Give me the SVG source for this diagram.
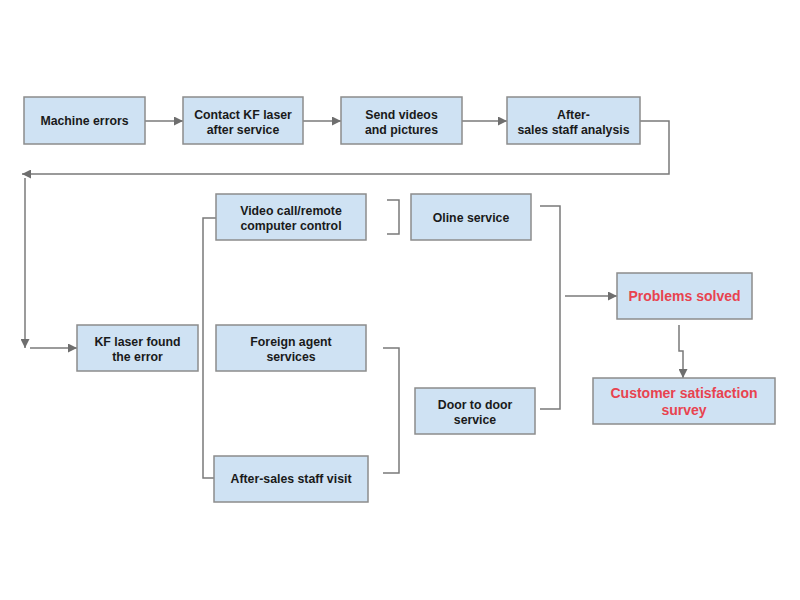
<svg xmlns="http://www.w3.org/2000/svg" width="800" height="600" viewBox="0 0 800 600">
<defs>
<style>
.box{fill:#cfe2f3;stroke:#8c8c8c;stroke-width:1.5}
.t{font-family:"Liberation Sans",Arial,sans-serif;font-size:12.3px;font-weight:bold;fill:#1a1a1a;text-anchor:middle}
.r{font-family:"Liberation Sans",Arial,sans-serif;font-size:14px;font-weight:bold;fill:#e8434f;text-anchor:middle}
.c{fill:none;stroke:#7a7a7a;stroke-width:1.5}
</style>
<marker id="ah" viewBox="0 0 10 10" refX="10" refY="5" markerWidth="12" markerHeight="9" markerUnits="userSpaceOnUse" orient="auto">
<path d="M0,0 L10,5 L0,10 Z" fill="#6e6e6e"/>
</marker>
</defs>
<rect width="800" height="600" fill="#ffffff"/>
<g id="connectors">
<path class="c" d="M145,121 H183" marker-end="url(#ah)"/>
<path class="c" d="M303,121 H341" marker-end="url(#ah)"/>
<path class="c" d="M462,121 H507" marker-end="url(#ah)"/>
<path class="c" d="M640,121 H669 V174 H22" marker-end="url(#ah)"/>
<path class="c" d="M25,178 V348" marker-end="url(#ah)"/>
<path class="c" d="M30,348 H77" marker-end="url(#ah)"/>
<path class="c" d="M216,218 H203 V478 H214"/>
<path class="c" d="M387,200 H399 V234 H387"/>
<path class="c" d="M383,348 H399 V473 H383"/>
<path class="c" d="M540,206 H560 V409 H540"/>
<path class="c" d="M565,296 H617" marker-end="url(#ah)"/>
<path class="c" d="M679,325 V351 H683 V378" marker-end="url(#ah)"/>
</g>
<g id="machine-errors"><rect class="box" x="24" y="97" width="121" height="47"/><text class="t" x="84.5" y="125">Machine errors</text></g>
<g id="contact-kf"><rect class="box" x="183" y="97" width="120" height="47"/><text class="t" x="243" y="119">Contact KF laser</text><text class="t" x="243" y="134">after service</text></g>
<g id="send-videos"><rect class="box" x="341" y="97" width="121" height="47"/><text class="t" x="401.5" y="119">Send videos</text><text class="t" x="401.5" y="134">and pictures</text></g>
<g id="after-sales-analysis"><rect class="box" x="507" y="97" width="133" height="47"/><text class="t" x="573.5" y="119">After-</text><text class="t" x="573.5" y="134">sales staff analysis</text></g>
<g id="kf-found"><rect class="box" x="77" y="325" width="121" height="46"/><text class="t" x="137.5" y="346">KF laser found</text><text class="t" x="137.5" y="361">the error</text></g>
<g id="video-call"><rect class="box" x="216" y="194" width="150" height="46"/><text class="t" x="291" y="215">Video call/remote</text><text class="t" x="291" y="230">computer control</text></g>
<g id="foreign-agent"><rect class="box" x="216" y="325" width="150" height="46"/><text class="t" x="291" y="346">Foreign agent</text><text class="t" x="291" y="361">services</text></g>
<g id="staff-visit"><rect class="box" x="214" y="456" width="154" height="46"/><text class="t" x="291" y="483">After-sales staff visit</text></g>
<g id="online-service"><rect class="box" x="411" y="194" width="120" height="46"/><text class="t" x="471" y="222">Oline service</text></g>
<g id="door-to-door"><rect class="box" x="415" y="388" width="120" height="46"/><text class="t" x="475" y="409">Door to door</text><text class="t" x="475" y="424">service</text></g>
<g id="problems-solved"><rect class="box" x="617" y="273" width="135" height="46"/><text class="r" x="684.5" y="301">Problems solved</text></g>
<g id="customer-survey"><rect class="box" x="593" y="378" width="182" height="46"/><text class="r" x="684" y="398">Customer satisfaction</text><text class="r" x="684" y="415">survey</text></g>
</svg>
